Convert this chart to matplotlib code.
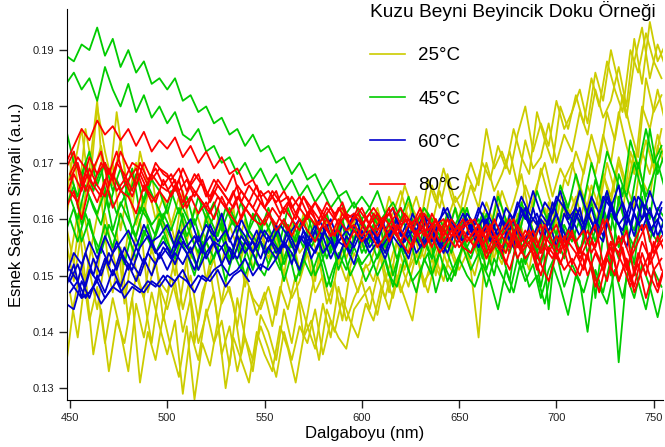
import numpy as np
import matplotlib
matplotlib.use("Agg")
import matplotlib.pyplot as plt

plt.rcParams['font.family'] = ['Liberation Sans', 'DejaVu Sans']

# wavelength grids (nm): scans sampled every 4 nm, two interleaved sets
wl_a = np.arange(448, 757, 4)   # 448 ... 756
wl_b = np.arange(450, 755, 4)   # 450 ... 754

# signal values, in units of 1e-4 a.u.
# ---- 25°C ----
y25_a = [1640, 1720, 1600, 1690, 1810, 1620, 1700, 1580, 1660, 1590, 1640, 1540, 1610,
         1570, 1500, 1600, 1530, 1580, 1490, 1560, 1610, 1520, 1570, 1480, 1550, 1590,
         1530, 1570, 1500, 1590, 1540, 1560, 1490, 1580, 1550, 1600, 1530, 1570, 1590,
         1560, 1610, 1540, 1600, 1580, 1630, 1570, 1620, 1590, 1650, 1600, 1640, 1610,
         1660, 1620, 1700, 1650, 1680, 1720, 1660, 1740, 1690, 1710, 1770, 1700, 1750,
         1720, 1790, 1750, 1830, 1780, 1810, 1870, 1800, 1920, 1840, 1950, 1880, 1910]
y25_b = [1590, 1520, 1630, 1560, 1500, 1610, 1540, 1480, 1580, 1510, 1460, 1550, 1490,
         1470, 1530, 1440, 1500, 1420, 1490, 1530, 1450, 1480, 1410, 1500, 1460, 1440,
         1480, 1430, 1510, 1460, 1490, 1540, 1470, 1500, 1450, 1530, 1490, 1540, 1510,
         1520, 1560, 1490, 1540, 1580, 1510, 1570, 1530, 1600, 1550, 1580, 1620, 1560,
         1600, 1570, 1630, 1590, 1650, 1610, 1580, 1660, 1620, 1690, 1640, 1600, 1670,
         1700, 1650, 1720, 1680, 1750, 1700, 1790, 1730, 1680, 1800, 1760, 1830, 1770]
y25_c = [1340, 1450, 1520, 1420, 1480, 1380, 1460, 1400, 1330, 1450, 1390, 1470, 1410,
         1360, 1420, 1290, 1400, 1350, 1440, 1380, 1420, 1340, 1460, 1390, 1330, 1430,
         1400, 1350, 1440, 1380, 1460, 1410, 1370, 1450, 1390, 1480, 1420, 1460, 1490,
         1440, 1500, 1460, 1520, 1470, 1510, 1540, 1480, 1530, 1500, 1560, 1520, 1550,
         1510, 1390, 1570, 1530, 1590, 1550, 1610, 1560, 1600, 1580, 1620, 1570, 1640,
         1600, 1660, 1620, 1580, 1680, 1640, 1710, 1660, 1620, 1720, 1680, 1750, 1700]
y25_d = [1560, 1490, 1580, 1510, 1440, 1530, 1470, 1550, 1420, 1500, 1460, 1380, 1480,
         1440, 1490, 1400, 1460, 1380, 1430, 1470, 1360, 1410, 1330, 1390, 1350, 1410,
         1370, 1320, 1400, 1350, 1410, 1380, 1440, 1360, 1420, 1390, 1370, 1440, 1460,
         1480, 1430, 1500, 1460, 1520, 1480, 1540, 1490, 1510, 1560, 1520, 1500, 1550,
         1570, 1530, 1590, 1550, 1520, 1600, 1560, 1620, 1580, 1550, 1630, 1590, 1610,
         1640, 1590, 1660, 1620, 1680, 1630, 1700, 1650, 1720, 1670, 1640, 1730, 1690]
y25_e = [1600, 1690, 1760, 1650, 1800, 1720, 1660, 1740, 1640, 1700, 1610, 1680, 1590,
         1620, 1560, 1650, 1580, 1530, 1610, 1570, 1520, 1590, 1550, 1600, 1510, 1570,
         1540, 1590, 1530, 1570, 1510, 1560, 1600, 1540, 1580, 1520, 1570, 1600, 1550,
         1590, 1620, 1570, 1610, 1650, 1600, 1640, 1590, 1660, 1620, 1680, 1630, 1650,
         1700, 1660, 1760, 1690, 1720, 1680, 1750, 1800, 1720, 1770, 1730, 1810, 1760,
         1790, 1830, 1770, 1860, 1810, 1900, 1840, 1780, 1880, 1940, 1850, 1910, 1870]
y25_f = [1530, 1610, 1490, 1570, 1640, 1510, 1580, 1450, 1540, 1600, 1470, 1530, 1420,
         1500, 1440, 1530, 1380, 1470, 1510, 1420, 1490, 1450, 1360, 1480, 1430, 1470,
         1410, 1480, 1440, 1500, 1390, 1470, 1530, 1450, 1490, 1420, 1510, 1470, 1520,
         1490, 1540, 1470, 1560, 1510, 1590, 1530, 1570, 1500, 1600, 1550, 1580, 1620,
         1560, 1610, 1580, 1650, 1590, 1630, 1680, 1610, 1660, 1700, 1640, 1690, 1660,
         1720, 1680, 1750, 1700, 1790, 1740, 1820, 1760, 1710, 1850, 1790, 1820]
y25_g = [1470, 1390, 1500, 1360, 1440, 1330, 1420, 1380, 1460, 1310, 1400, 1350, 1430,
         1370, 1320, 1410, 1280, 1380, 1340, 1420, 1300, 1390, 1350, 1310, 1400, 1360,
         1330, 1410, 1370, 1310, 1390, 1420, 1350, 1440, 1400, 1460, 1420, 1390, 1450,
         1420, 1480, 1440, 1500, 1460, 1420, 1510, 1470, 1530, 1490, 1550, 1510, 1540,
         1500, 1560, 1520, 1580, 1540, 1600, 1550, 1510, 1590, 1620, 1570, 1630, 1600,
         1640, 1590, 1660, 1620, 1700, 1650, 1610, 1720, 1680, 1740, 1690, 1760]
y25_h = [1700, 1620, 1760, 1680, 1730, 1650, 1790, 1690, 1620, 1720, 1660, 1600, 1640,
         1590, 1640, 1560, 1620, 1580, 1540, 1600, 1560, 1620, 1530, 1580, 1550, 1600,
         1560, 1520, 1590, 1550, 1610, 1570, 1530, 1600, 1560, 1620, 1580, 1610, 1570,
         1610, 1580, 1640, 1600, 1660, 1620, 1590, 1670, 1630, 1690, 1640, 1600, 1680,
         1650, 1700, 1670, 1730, 1690, 1760, 1710, 1680, 1790, 1740, 1700, 1800, 1760,
         1820, 1770, 1850, 1800, 1880, 1830, 1790, 1900, 1860, 1930, 1880, 1850]

# ---- 45°C ----
y45_a = [1890, 1880, 1910, 1900, 1940, 1890, 1920, 1870, 1900, 1860, 1880, 1840, 1850,
         1830, 1850, 1810, 1820, 1790, 1800, 1770, 1780, 1750, 1760, 1730, 1750, 1720,
         1730, 1700, 1710, 1680, 1700, 1670, 1680, 1650, 1670, 1640, 1650, 1620, 1640,
         1620, 1650, 1610, 1630, 1600, 1640, 1590, 1620, 1600, 1570, 1610, 1590, 1620,
         1580, 1600, 1560, 1590, 1540, 1580, 1600, 1550, 1570, 1520, 1580, 1540, 1590,
         1560, 1600, 1540, 1580, 1620, 1570, 1530, 1610, 1580, 1640, 1560, 1620, 1600]
y45_b = [1840, 1860, 1830, 1850, 1810, 1870, 1830, 1800, 1840, 1790, 1820, 1780, 1800,
         1770, 1790, 1750, 1740, 1760, 1720, 1730, 1700, 1710, 1680, 1700, 1670, 1690,
         1660, 1680, 1650, 1670, 1640, 1660, 1630, 1650, 1620, 1640, 1610, 1630, 1600,
         1620, 1590, 1610, 1570, 1600, 1580, 1560, 1600, 1570, 1590, 1550, 1580, 1560,
         1540, 1580, 1550, 1500, 1570, 1540, 1590, 1520, 1560, 1480, 1550, 1570, 1530,
         1580, 1540, 1600, 1460, 1570, 1610, 1550, 1590, 1520, 1630, 1580, 1560, 1610]
y45_c = [1760, 1700, 1680, 1720, 1660, 1700, 1650, 1690, 1640, 1680, 1630, 1670, 1650,
         1610, 1660, 1620, 1590, 1640, 1600, 1630, 1580, 1620, 1590, 1560, 1610, 1580,
         1620, 1570, 1600, 1550, 1590, 1610, 1560, 1590, 1540, 1580, 1610, 1560, 1600,
         1570, 1610, 1550, 1590, 1620, 1560, 1600, 1570, 1530, 1600, 1570, 1620, 1560,
         1590, 1540, 1610, 1570, 1530, 1600, 1560, 1620, 1580, 1540, 1610, 1570, 1630,
         1590, 1650, 1600, 1670, 1620, 1580, 1680, 1640, 1700, 1650, 1760, 1680, 1720]
y45_d = [1620, 1660, 1590, 1640, 1610, 1650, 1580, 1630, 1600, 1570, 1620, 1590, 1610,
         1580, 1550, 1610, 1570, 1540, 1600, 1560, 1590, 1530, 1570, 1550, 1510, 1560,
         1540, 1580, 1520, 1560, 1500, 1550, 1580, 1530, 1570, 1510, 1550, 1590, 1540,
         1570, 1530, 1560, 1500, 1550, 1580, 1520, 1560, 1530, 1570, 1540, 1500, 1560,
         1530, 1570, 1510, 1560, 1540, 1490, 1580, 1530, 1550, 1600, 1440, 1570, 1550,
         1590, 1540, 1600, 1560, 1620, 1500, 1640, 1580, 1550, 1660, 1600, 1700, 1650]
y45_e = [1580, 1620, 1560, 1600, 1540, 1590, 1550, 1610, 1570, 1530, 1580, 1550, 1600,
         1560, 1530, 1580, 1540, 1510, 1560, 1530, 1570, 1520, 1550, 1500, 1540, 1560,
         1520, 1550, 1490, 1540, 1510, 1560, 1500, 1530, 1480, 1540, 1510, 1550, 1520,
         1540, 1500, 1530, 1480, 1550, 1510, 1470, 1530, 1500, 1540, 1490, 1520, 1550,
         1510, 1540, 1480, 1530, 1500, 1470, 1530, 1490, 1520, 1460, 1510, 1540, 1480,
         1520, 1490, 1400, 1510, 1470, 1530, 1346, 1500, 1460, 1520, 1480, 1426, 1490]
y45_f = [1680, 1640, 1700, 1650, 1690, 1620, 1670, 1640, 1690, 1610, 1660, 1630, 1600,
         1650, 1610, 1640, 1590, 1630, 1600, 1570, 1620, 1590, 1630, 1580, 1610, 1570,
         1600, 1560, 1620, 1580, 1550, 1600, 1570, 1610, 1560, 1590, 1540, 1580, 1560,
         1590, 1550, 1580, 1530, 1570, 1600, 1550, 1580, 1520, 1570, 1540, 1590, 1550,
         1580, 1530, 1570, 1540, 1600, 1550, 1510, 1580, 1540, 1590, 1550, 1600, 1560,
         1610, 1570, 1630, 1580, 1650, 1600, 1660, 1620, 1700, 1640, 1680, 1720]
y45_g = [1600, 1560, 1610, 1570, 1540, 1590, 1560, 1520, 1580, 1550, 1590, 1540, 1570,
         1530, 1570, 1540, 1500, 1560, 1520, 1550, 1490, 1540, 1510, 1560, 1520, 1500,
         1540, 1510, 1550, 1490, 1530, 1500, 1540, 1480, 1520, 1550, 1500, 1530, 1490,
         1520, 1550, 1500, 1480, 1530, 1490, 1510, 1540, 1470, 1520, 1490, 1530, 1500,
         1480, 1520, 1490, 1440, 1510, 1470, 1530, 1480, 1500, 1450, 1520, 1480, 1430,
         1500, 1470, 1520, 1480, 1450, 1510, 1460, 1530, 1490, 1440, 1510, 1480]
y45_h = [1640, 1600, 1660, 1620, 1590, 1650, 1610, 1640, 1580, 1620, 1600, 1570, 1610,
         1580, 1620, 1570, 1600, 1550, 1590, 1620, 1570, 1600, 1540, 1580, 1560, 1600,
         1570, 1540, 1590, 1560, 1600, 1550, 1580, 1530, 1570, 1600, 1550, 1580, 1540,
         1580, 1550, 1600, 1570, 1540, 1590, 1560, 1610, 1570, 1550, 1600, 1580, 1620,
         1570, 1610, 1580, 1640, 1600, 1560, 1630, 1590, 1650, 1610, 1580, 1660, 1620,
         1680, 1630, 1700, 1650, 1720, 1680, 1640, 1740, 1690, 1760, 1700, 1730]

# ---- 60°C ----
y60_a = [1500, 1540, 1520, 1560, 1530, 1570, 1540, 1560, 1580, 1550, 1590, 1560, 1570,
         1590, 1550, 1580, 1600, 1560, 1590, 1570, 1610, 1560, 1590, 1570, 1540, 1580,
         1560, 1590, 1550, 1580, 1600, 1560, 1590, 1570, 1600, 1560, 1580, 1610, 1570,
         1590, 1560, 1600, 1620, 1570, 1600, 1580, 1610, 1560, 1600, 1620, 1580, 1610,
         1580, 1620, 1590, 1640, 1600, 1580, 1630, 1600, 1650, 1610, 1590, 1640, 1620,
         1600, 1650, 1610, 1580, 1640, 1620, 1660, 1590, 1640, 1600, 1650, 1610, 1590]
y60_b = [1480, 1520, 1460, 1510, 1490, 1530, 1500, 1540, 1510, 1550, 1520, 1560, 1530,
         1550, 1520, 1560, 1540, 1570, 1530, 1560, 1550, 1520, 1570, 1540, 1560, 1530,
         1570, 1540, 1560, 1520, 1570, 1550, 1580, 1540, 1560, 1530, 1570, 1550, 1580,
         1550, 1570, 1540, 1580, 1560, 1530, 1580, 1550, 1590, 1560, 1540, 1580, 1560,
         1590, 1560, 1600, 1570, 1540, 1610, 1580, 1560, 1620, 1570, 1600, 1550, 1610,
         1580, 1620, 1560, 1600, 1570, 1630, 1590, 1550, 1610, 1580, 1620, 1570, 1600]
y60_c = [1450, 1440, 1490, 1460, 1500, 1470, 1510, 1480, 1520, 1490, 1530, 1500, 1540,
         1510, 1540, 1520, 1550, 1510, 1540, 1560, 1520, 1550, 1530, 1560, 1540, 1510,
         1550, 1530, 1560, 1540, 1510, 1560, 1540, 1570, 1530, 1560, 1550, 1520, 1570,
         1540, 1560, 1530, 1570, 1550, 1580, 1540, 1560, 1580, 1550, 1570, 1590, 1560,
         1580, 1550, 1590, 1570, 1600, 1560, 1590, 1620, 1570, 1600, 1580, 1610, 1560,
         1600, 1570, 1610, 1580, 1560, 1620, 1590, 1610, 1570, 1630, 1580, 1600, 1560]
y60_d = [1500, 1480, 1460, 1470, 1490, 1460, 1480, 1470, 1490, 1480, 1470, 1490, 1480,
         1500, 1490, 1510, 1480, 1500, 1490, 1510, 1520, 1500, 1510, 1530, 1500, 1520,
         1510, 1530]   # scan stops near 556 nm
y60_e = [1510, 1490, 1540, 1500, 1550, 1520, 1560, 1530, 1510, 1550, 1570, 1540, 1560,
         1540, 1580, 1550, 1570, 1540, 1590, 1560, 1580, 1550, 1600, 1570, 1550, 1580,
         1560, 1590, 1570, 1540, 1580, 1560, 1600, 1570, 1550, 1590, 1570, 1600, 1580,
         1560, 1600, 1570, 1590, 1560, 1610, 1580, 1600, 1570, 1620, 1590, 1570, 1610,
         1590, 1630, 1600, 1570, 1620, 1600, 1640, 1610, 1590, 1630, 1610, 1650, 1600,
         1620, 1590, 1640, 1610, 1650, 1600, 1630, 1590, 1640, 1620, 1600, 1630]
y60_f = [1470, 1490, 1460, 1480, 1450, 1470, 1490, 1460, 1480, 1470, 1490, 1480, 1500,
         1480, 1500, 1490, 1470, 1500, 1490, 1510, 1480, 1500, 1510, 1490]   # stops near 542 nm
y60_g = [1490, 1520, 1480, 1530, 1500, 1540, 1510, 1550, 1520, 1500, 1540, 1520, 1550,
         1530, 1560, 1540, 1510, 1550, 1570, 1540, 1560, 1530, 1570, 1550, 1580, 1540,
         1560, 1540, 1580, 1550, 1570, 1530, 1560, 1590, 1550, 1570, 1540, 1580, 1560,
         1580, 1550, 1570, 1600, 1560, 1580, 1550, 1590, 1570, 1540, 1590, 1560, 1600,
         1570, 1600, 1560, 1610, 1580, 1550, 1620, 1590, 1610, 1570, 1630, 1590, 1560,
         1610, 1580, 1620, 1570, 1640, 1600, 1580, 1630, 1590, 1610, 1570, 1620]

# ---- 80°C ----
y80_a = [1700, 1730, 1760, 1740, 1775, 1750, 1765, 1740, 1760, 1730, 1755, 1720, 1740,
         1725, 1745, 1710, 1730, 1700, 1720, 1690, 1710, 1680, 1690, 1660, 1670, 1640,
         1650, 1630, 1650, 1620, 1640, 1610, 1630, 1600, 1620, 1590, 1610, 1600, 1620,
         1590, 1610, 1580, 1600, 1620, 1590, 1600, 1570, 1610, 1580, 1600, 1570, 1590,
         1600, 1570, 1590, 1560, 1580, 1600, 1550, 1580, 1560, 1590, 1540, 1570, 1550,
         1580, 1530, 1560, 1590, 1520, 1560, 1540, 1580, 1500, 1560, 1530, 1570, 1540]
y80_b = [1690, 1720, 1660, 1710, 1680, 1700, 1670, 1720, 1690, 1660, 1700, 1670, 1690,
         1680, 1650, 1690, 1660, 1680, 1640, 1670, 1650, 1630, 1660, 1640, 1620, 1650,
         1630, 1650, 1610, 1640, 1620, 1600, 1630, 1610, 1590, 1620, 1600, 1610, 1590,
         1610, 1580, 1600, 1620, 1590, 1600, 1570, 1610, 1590, 1560, 1600, 1580, 1600,
         1570, 1590, 1560, 1600, 1570, 1550, 1590, 1560, 1580, 1540, 1570, 1590, 1550,
         1570, 1540, 1580, 1550, 1600, 1530, 1570, 1510, 1560, 1590, 1520, 1550, 1570]
y80_c = [1640, 1680, 1650, 1690, 1660, 1640, 1680, 1650, 1670, 1690, 1650, 1680, 1660,
         1650, 1670, 1630, 1660, 1640, 1620, 1650, 1630, 1610, 1640, 1620, 1600, 1630,
         1610, 1590, 1620, 1600, 1580, 1610, 1590, 1600, 1570, 1600, 1580, 1590, 1570,
         1590, 1570, 1600, 1580, 1560, 1590, 1570, 1580, 1550, 1590, 1570, 1550, 1580,
         1560, 1580, 1540, 1570, 1550, 1580, 1530, 1560, 1540, 1500, 1550, 1530, 1570,
         1520, 1550, 1500, 1540, 1510, 1560, 1490, 1530, 1480, 1540, 1500, 1470, 1520]
y80_d = [1620, 1650, 1600, 1660, 1630, 1670, 1620, 1650, 1640, 1610, 1660, 1630, 1650,
         1630, 1660, 1620, 1640, 1610, 1630, 1600, 1640, 1610, 1590, 1620, 1600, 1590,
         1610, 1580, 1600, 1570, 1600, 1580, 1560, 1590, 1570, 1580, 1550, 1580, 1560,
         1580, 1550, 1570, 1590, 1560, 1540, 1580, 1550, 1570, 1540, 1560, 1580, 1550,
         1540, 1570, 1530, 1560, 1540, 1510, 1560, 1530, 1550, 1520, 1490, 1540, 1510,
         1530, 1500, 1540, 1480, 1520, 1550, 1490, 1530, 1470, 1510, 1540, 1480, 1520]
y80_e = [1670, 1700, 1650, 1690, 1720, 1660, 1700, 1680, 1650, 1700, 1670, 1690, 1660,
         1680, 1650, 1670, 1640, 1670, 1630, 1660, 1640, 1620, 1650, 1630, 1660, 1620,
         1640, 1610, 1630, 1600, 1640, 1610, 1590, 1620, 1600, 1630, 1590, 1610, 1580,
         1610, 1590, 1620, 1570, 1600, 1580, 1610, 1560, 1590, 1600, 1570, 1590, 1560,
         1580, 1550, 1590, 1560, 1540, 1580, 1550, 1570, 1530, 1570, 1550, 1520, 1560,
         1540, 1510, 1560, 1530, 1490, 1550, 1520, 1480, 1540, 1500, 1560, 1510]
y80_f = [1650, 1630, 1680, 1660, 1640, 1690, 1650, 1670, 1640, 1680, 1650, 1630, 1670,
         1640, 1670, 1620, 1650, 1630, 1610, 1640, 1620, 1650, 1600, 1630, 1610, 1590,
         1620, 1600, 1580, 1610, 1590, 1620, 1580, 1600, 1570, 1610, 1590, 1570, 1600,
         1580, 1600, 1560, 1590, 1570, 1550, 1590, 1570, 1600, 1560, 1580, 1550, 1570,
         1550, 1580, 1540, 1560, 1520, 1570, 1540, 1560, 1510, 1550, 1530, 1570, 1520,
         1500, 1540, 1520, 1470, 1530, 1500, 1550, 1490, 1520, 1460, 1510, 1530]
y80_g = [1680, 1710, 1690, 1660, 1700, 1680, 1720, 1670, 1700, 1690, 1660, 1700, 1680,
         1670, 1690, 1650, 1680, 1660, 1640, 1670, 1650, 1680, 1630, 1660, 1640, 1620,
         1650, 1630, 1640, 1610, 1640, 1620, 1600, 1630, 1610, 1620, 1590, 1620, 1600,
         1620, 1600, 1610, 1580, 1610, 1590, 1620, 1580, 1600, 1570, 1600, 1580, 1590,
         1600, 1570, 1590, 1560, 1580, 1600, 1560, 1580, 1550, 1590, 1560, 1540, 1580,
         1560, 1580, 1540, 1570, 1600, 1550, 1570, 1530, 1560, 1590, 1540, 1570]

groups = [
    ("25°C", "#cccc00", [(wl_a, y25_a), (wl_b, y25_f), (wl_a, y25_b), (wl_b, y25_g),
                         (wl_a, y25_c), (wl_b, y25_h), (wl_a, y25_d), (wl_a, y25_e)]),
    ("45°C", "#00cc00", [(wl_a, y45_a), (wl_b, y45_f), (wl_a, y45_b), (wl_b, y45_g),
                         (wl_a, y45_c), (wl_b, y45_h), (wl_a, y45_d), (wl_a, y45_e)]),
    ("60°C", "#0000cc", [(wl_a, y60_a), (wl_b, y60_e), (wl_a, y60_b), (wl_b, y60_f),
                         (wl_a, y60_c), (wl_b, y60_g), (wl_a, y60_d)]),
    ("80°C", "#ff0000", [(wl_a, y80_a), (wl_b, y80_e), (wl_a, y80_b), (wl_b, y80_f),
                         (wl_a, y80_c), (wl_b, y80_g), (wl_a, y80_d)]),
]

fig = plt.figure(figsize=(6.65, 4.47), dpi=100)
ax = fig.add_axes([0.1008, 0.105, 0.896, 0.875])

for label, color, curves in groups:
    for k, (x, c) in enumerate(curves):
        vals = np.array(c) / 10000.0
        ax.plot(x[:len(vals)], vals, color=color, lw=1.3,
                label=label if k == 0 else None)

ax.set_xlim(448.5, 754.7)
ax.set_ylim(0.1279, 0.1973)
ax.set_xticks([450, 500, 550, 600, 650, 700, 750])
ax.set_yticks([0.13, 0.14, 0.15, 0.16, 0.17, 0.18, 0.19])
ax.tick_params(direction='out', length=6, width=1, labelsize=8, colors='#222222')
ax.spines['top'].set_visible(False)
ax.spines['right'].set_visible(False)

ax.set_xlabel("Dalgaboyu (nm)", fontsize=12, labelpad=2)
ax.set_ylabel("Esnek Saçılım Sinyali (a.u.)", fontsize=12, labelpad=6)

leg = ax.legend(title="Kuzu Beyni Beyincik Doku Örneği", loc='upper right',
                bbox_to_anchor=(1.0, 1.04), frameon=False, fontsize=13.5,
                title_fontsize=13.8, alignment='left', handlelength=1.9,
                handletextpad=0.7, labelspacing=1.4, borderaxespad=0)
for h in leg.get_lines():
    h.set_linewidth(1.2)

fig.savefig("out.png", dpi=100)
